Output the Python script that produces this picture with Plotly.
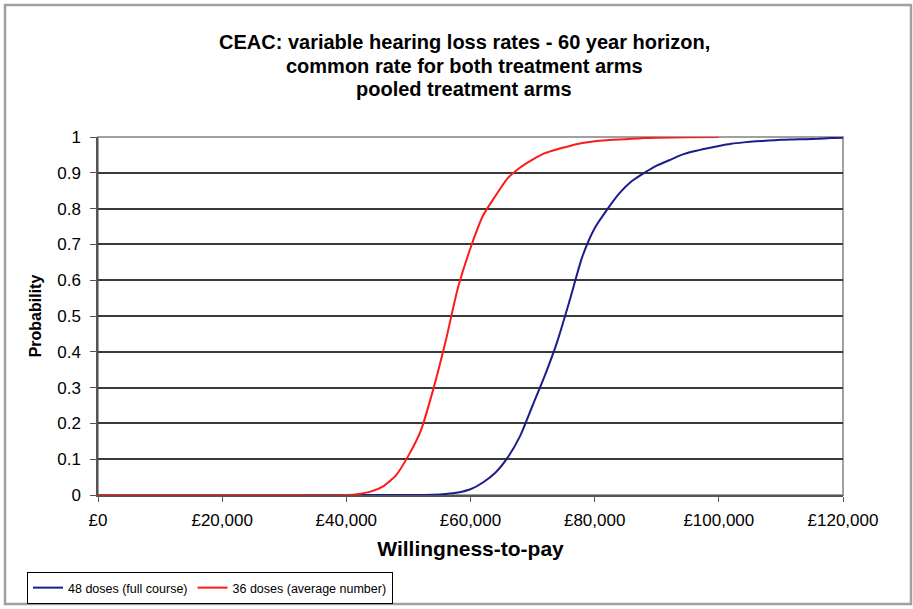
import plotly.graph_objects as go

# willingness-to-pay values (GBP) and probability cost-effective
wtp_full = [0, 10000, 20000, 30000, 40000, 50000, 54000, 56000, 58000, 60000, 62000, 64000,
            66000, 68000, 70000, 72000, 74000, 76000, 78000, 80000, 82000, 84000,
            86000, 88000, 90000, 92000, 94000, 96000, 98000, 100000, 102000, 104000,
            106000, 108000, 110000, 112000, 114000, 116000, 118000, 120000]
prob_full = [0, 0, 0, 0, 0, 0, 0.001, 0.003, 0.007, 0.016, 0.035, 0.062,
             0.105, 0.165, 0.25, 0.335, 0.43, 0.545, 0.665, 0.745, 0.797, 0.843,
             0.877, 0.9, 0.92, 0.935, 0.95, 0.96, 0.968, 0.975, 0.981, 0.985,
             0.988, 0.99, 0.992, 0.993, 0.994, 0.995, 0.997, 0.998]

wtp_avg = [0, 10000, 20000, 30000, 40000, 42000, 44000, 46000, 48000, 50000, 52000, 54000,
           56000, 58000, 60000, 62000, 64000, 66000, 68000, 70000, 72000, 74000,
           76000, 78000, 80000, 82000, 84000, 86000, 88000, 90000, 95000, 100000]
prob_avg = [0, 0, 0, 0, 0, 0.003, 0.01, 0.025, 0.055, 0.11, 0.18, 0.295,
            0.43, 0.58, 0.69, 0.78, 0.835, 0.885, 0.915, 0.937, 0.955, 0.966,
            0.975, 0.983, 0.988, 0.991, 0.993, 0.995, 0.997, 0.998, 0.999, 1.0]

x_ticks = [0, 20000, 40000, 60000, 80000, 100000, 120000]
x_tick_labels = ['£0', '£20,000', '£40,000', '£60,000', '£80,000', '£100,000', '£120,000']
y_ticks = [0, 0.1, 0.2, 0.3, 0.4, 0.5, 0.6, 0.7, 0.8, 0.9, 1]
y_tick_labels = ['0', '0.1', '0.2', '0.3', '0.4', '0.5', '0.6', '0.7', '0.8', '0.9', '1']

title_lines = ['CEAC: variable hearing loss rates - 60 year horizon,',
               'common rate for both treatment arms',
               'pooled treatment arms']

W, H = 913, 609
L, R, T, B = 98, 843, 137, 495   # plot area in pixels

def px(x):
    return (x - L) / (R - L)

def py(y):
    return (B - y) / (B - T)

fig = go.Figure()
fig.add_trace(go.Scatter(x=wtp_full, y=prob_full, mode='lines', name='48 doses (full course)',
                         line=dict(color='#1c1c8a', width=2, shape='spline', smoothing=0.6)))
fig.add_trace(go.Scatter(x=wtp_avg, y=prob_avg, mode='lines', name='36 doses (average number)',
                         line=dict(color='#ff1a1a', width=2, shape='spline', smoothing=0.6)))

fig.update_layout(
    width=W, height=H,
    margin=dict(l=L, r=W - R, t=T, b=H - B),
    paper_bgcolor='white', plot_bgcolor='white',
    font=dict(family='Liberation Sans, Arial', color='black'),
    xaxis=dict(range=[0, 120000], tickvals=x_ticks, ticktext=x_tick_labels,
               showgrid=False, showline=True, linecolor='#555555', linewidth=1.5,
               ticks='outside', ticklen=5, tickcolor='#555555', zeroline=False,
               tickfont=dict(size=17), ticklabelstandoff=4,
               title=dict(text='<b>Willingness-to-pay</b>', font=dict(size=21), standoff=12)),
    yaxis=dict(range=[0, 1], tickvals=y_ticks, ticktext=y_tick_labels,
               showgrid=True, gridcolor='#3a3a3a', gridwidth=1.5,
               showline=True, linecolor='#555555', linewidth=1.5,
               ticks='outside', ticklen=6, tickcolor='#555555', zeroline=False,
               tickfont=dict(size=17), ticklabelstandoff=6,
               title=dict(text='<b>Probability</b>', font=dict(size=16), standoff=12)),
    legend=dict(orientation='h', xref='container', yref='container',
                x=27 / W, xanchor='left', y=1 - 572 / H, yanchor='top',
                bordercolor='black', borderwidth=1, bgcolor='white',
                font=dict(size=12.5)),
    showlegend=True,
)

# title, one annotation per line
for i, line in enumerate(title_lines):
    fig.add_annotation(text='<b>' + line + '</b>', xref='paper', yref='paper',
                       x=px(464), y=py(42 + 23.5 * i), xanchor='center', yanchor='middle',
                       showarrow=False, font=dict(size=20))

# plot area border (right/top in grey)
fig.add_shape(type='rect', xref='paper', yref='paper', x0=0, x1=1, y0=0, y1=1,
              line=dict(color='#a0a0a0', width=2), layer='below')
# outer chart frame
fig.add_shape(type='rect', xref='paper', yref='paper', x0=px(5), x1=px(911), y0=py(604), y1=py(5),
              line=dict(color='#a0a0a0', width=2.5))

fig.write_html('out.html', config={'displayModeBar': False},
               post_script="document.body.style.margin='0';")
